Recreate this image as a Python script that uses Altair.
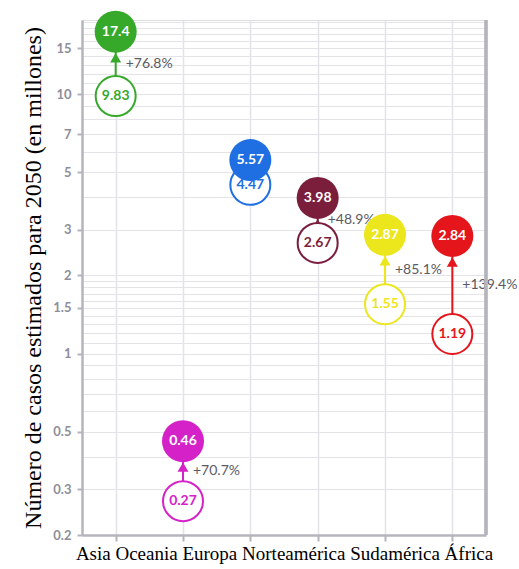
import math
import altair as alt
import pandas as pd

cats = ["Asia", "Oceania", "Europa", "Norteamérica", "Sudamérica", "África"]
now_vals = [9.83, 0.27, 4.47, 2.67, 1.55, 1.19]
fut_vals = [17.4, 0.46, 5.57, 3.98, 2.87, 2.84]
pct_labels = ["+76.8%", "+70.7%", "", "+48.9%", "+85.1%", "+139.4%"]
colors = ["#36a92b", "#d522c8", "#1f6fe3", "#7b1e3c", "#ece61c", "#e5151c"]

label_vals = [0.2, 0.3, 0.5, 1, 1.5, 2, 3, 5, 7, 10, 15]
grid_vals = ([0.2, 0.3, 0.4, 0.5, 0.6, 0.7, 0.8, 0.9, 1.0, 1.1, 1.2, 1.3, 1.4,
              1.5, 1.6, 1.7, 1.8, 1.9, 2, 3, 4, 5, 6, 7, 8, 9, 10, 11, 12, 13,
              14, 15, 16, 17, 18, 19])

df = pd.DataFrame({
    "cat": cats,
    "now": now_vals,
    "fut": fut_vals,
    "pct": pct_labels,
    "color": colors,
})
df["mid"] = [math.sqrt(a * b) for a, b in zip(now_vals, fut_vals)]
df["now_lbl"] = [f"{v:g}" for v in now_vals]
df["fut_lbl"] = [f"{v:g}" for v in fut_vals]

W, H = 404, 515
lab_arr = "[" + ",".join(str(v) for v in label_vals) + "]"

x_enc = alt.X(
    "cat:N",
    sort=cats,
    scale=alt.Scale(type="point", padding=0.5),
    axis=alt.Axis(
        labels=False,
        title="Asia Oceania Europa Norteamérica Sudamérica África",
        titleFont="Liberation Serif",
        titleFontSize=19,
        titleFontWeight="normal",
        titleColor="#000000",
        titlePadding=2,
        tickColor="#b4b4bc",
        tickSize=6,
        tickWidth=2,
        domainColor="#b4b4bc",
        domainWidth=2.5,
        grid=True,
        gridColor="#e4e4e8",
        gridWidth=1.5,
    ),
)

y_scale = alt.Scale(type="log", domain=[0.2, 19.3], nice=False)
y_axis = alt.Axis(
    values=grid_vals,
    labelExpr=f"indexof({lab_arr}, datum.value) >= 0 ? format(datum.value, '~g') : ''",
    tickOpacity=alt.expr(f"indexof({lab_arr}, datum.value) >= 0 ? 1 : 0"),
    title="Número de casos estimados para 2050 (en millones)",
    titleFont="Liberation Serif",
    titleFontSize=24,
    titleFontWeight="normal",
    titleColor="#000000",
    titlePadding=7,
    labelFont="Lato",
    labelFontWeight="bold",
    labelFontSize=13,
    labelColor="#8e8e9a",
    labelPadding=6,
    tickColor="#b4b4bc",
    tickSize=5,
    tickWidth=2,
    domainColor="#b4b4bc",
    domainWidth=2.5,
    grid=True,
    gridColor="#e4e4e8",
    gridWidth=1,
)

color_enc = alt.Color("color:N", scale=None, legend=None)
xs = alt.X("cat:N", sort=cats)

base = alt.Chart(df)

rule = base.mark_rule(strokeWidth=2).encode(
    x=x_enc,
    y=alt.Y("now:Q", scale=y_scale, axis=y_axis),
    y2="fut:Q",
    color=color_enc,
)

pct_text = base.mark_text(
    align="left", baseline="middle", dx=10, font="Lato", fontSize=14,
    color="#5a5a62"
).encode(x=xs, y="mid:Q", text="pct:N")

arrow = base.mark_point(
    shape="triangle-up", filled=True, size=120, opacity=1, yOffset=26
).encode(x=xs, y="fut:Q", color=color_enc)

hollow = base.mark_point(
    shape="circle", filled=False, size=1600, strokeWidth=2, fill="white",
    fillOpacity=1, opacity=1
).encode(x=xs, y="now:Q", stroke=alt.Stroke("color:N", scale=None, legend=None))

hollow_text = base.mark_text(
    font="Lato", fontSize=14, fontWeight="bold", baseline="middle"
).encode(x=xs, y="now:Q", text="now_lbl:N", color=color_enc)

filled = base.mark_point(
    shape="circle", filled=True, size=1764, opacity=1
).encode(x=xs, y="fut:Q", color=color_enc)

filled_text = base.mark_text(
    font="Lato", fontSize=14, fontWeight="bold", baseline="middle",
    color="white"
).encode(x=xs, y="fut:Q", text="fut_lbl:N")

border = alt.Chart(df).mark_rule(color="#b4b4bc", strokeWidth=2.5).encode(
    x=alt.value(W), y=alt.value(0), y2=alt.value(H)
)

chart = alt.layer(
    rule, pct_text, arrow, hollow, hollow_text, filled, filled_text, border
).properties(
    width=W,
    height=H,
    autosize=alt.AutoSizeParams(type="none"),
    padding={"left": 82, "top": 20, "right": 33, "bottom": 34},
).configure_view(stroke=None).configure(background="white")

chart.save("out.html", embed_options={"renderer": "svg", "actions": False})
